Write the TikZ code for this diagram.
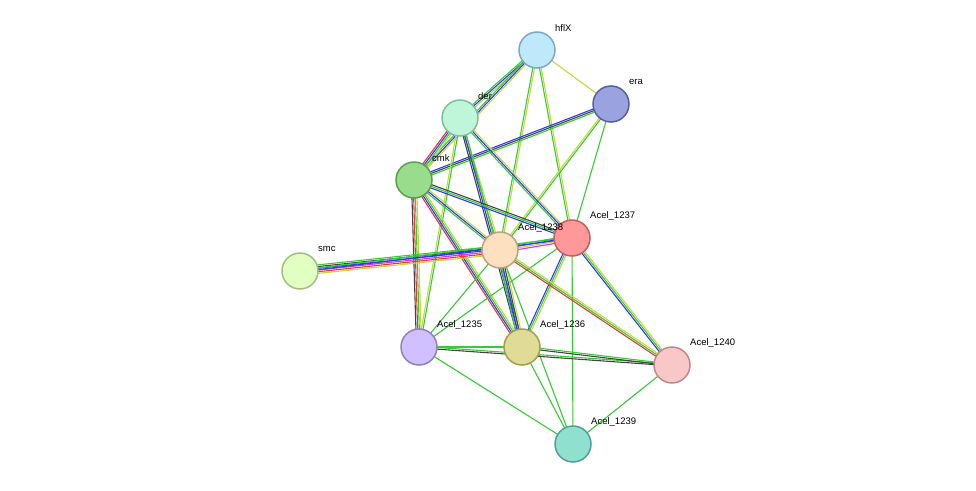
\documentclass[tikz,border=0pt]{standalone}
\usepackage{fontspec}
\setmainfont{Liberation Sans}
\usetikzlibrary{calc}
\definecolor{cg}{HTML}{33CC33}
\definecolor{cb}{HTML}{3333FF}
\definecolor{cr}{HTML}{EE3333}
\definecolor{ck}{HTML}{444444}
\definecolor{cy}{HTML}{C4D83A}
\definecolor{cmg}{HTML}{DD33DD}
\definecolor{fa}{HTML}{BFE8FB}\definecolor{ba}{HTML}{7AA8C8}
\definecolor{fb}{HTML}{9AA3E0}\definecolor{bb}{HTML}{5560A0}
\definecolor{fc}{HTML}{BFF5D8}\definecolor{bc}{HTML}{7CBF9C}
\definecolor{fd}{HTML}{99DD8C}\definecolor{bd}{HTML}{5A9E50}
\definecolor{fe}{HTML}{FF9999}\definecolor{be}{HTML}{C06060}
\definecolor{ff}{HTML}{FDE0C0}\definecolor{bf}{HTML}{C0A080}
\definecolor{fg}{HTML}{E0FFC0}\definecolor{bg}{HTML}{A0C080}
\definecolor{fh}{HTML}{D0C0FF}\definecolor{bh}{HTML}{9080C0}
\definecolor{fi}{HTML}{E0DC98}\definecolor{bi}{HTML}{A0A050}
\definecolor{fj}{HTML}{F8C8C8}\definecolor{bj}{HTML}{C08888}
\definecolor{fk}{HTML}{90E0D0}\definecolor{bk}{HTML}{50A098}
\tikzset{
 prot/.style 2 args={circle,draw=#2,fill=#1,line width=1.5pt,minimum size=36pt,inner sep=0pt},
 lab/.style={font=\fontsize{9.5pt}{10pt}\selectfont,anchor=west,inner sep=0pt},
 stripe/.style={line width=1.1pt}
}
\newcommand{\pedge}[3]{%
 \foreach \c [count=\i] in {#3} {\global\let\ncount\i}%
 \foreach \c [count=\i] in {#3} {%
  \pgfmathsetmacro{\off}{(\i-(\ncount+1)/2)*1.7}%
  \draw[stripe,draw=\c] ($(#1.center)!\off pt!90:(#2.center)$) -- ($(#2.center)!\off pt!-90:(#1.center)$);
 }}
\begin{document}
\begin{tikzpicture}[x=1pt,y=-1pt]
\useasboundingbox (0,0) rectangle (976,490);
\coordinate (hflX) at (537,50);
\coordinate (era) at (611,104);
\coordinate (der) at (460,118);
\coordinate (cmk) at (414,180);
\coordinate (a37) at (572,238);
\coordinate (a38) at (500,250);
\coordinate (smc) at (300,271);
\coordinate (a35) at (419,347);
\coordinate (a36) at (522,347);
\coordinate (a40) at (672,365);
\coordinate (a39) at (573,444);
\pedge{hflX}{der}{cg,cb,cy}
\pedge{hflX}{cmk}{cg,cb,cy}
\pedge{hflX}{era}{cy}
\pedge{hflX}{a37}{cg,cy}
\pedge{hflX}{a38}{cg,cy}
\pedge{era}{cmk}{cb,ck,cg}
\pedge{era}{a38}{cy,cg}
\pedge{era}{a37}{cg}
\pedge{der}{cmk}{cr,cb,cg,cy}
\pedge{der}{a37}{cg,cb,cy}
\pedge{der}{a38}{cg,cy}
\pedge{der}{a36}{ck,cb,cg}
\pedge{der}{a35}{cy,cg}
\pedge{cmk}{a37}{cb,cg,ck}
\pedge{cmk}{a38}{cg,cb,cy}
\pedge{cmk}{a35}{ck,cr,cg,cy}
\pedge{cmk}{a36}{cr,cb,cg,cy}
\pedge{smc}{a38}{cy,cr,cmg,cb,ck,cg}
\pedge{smc}{a37}{cb,cg}
\pedge{a37}{a38}{cg,cb,cy,cmg}
\pedge{a37}{a35}{cg}
\pedge{a37}{a36}{cb,cg,cy}
\pedge{a37}{a40}{cb,cg,cy}
\pedge{a37}{a39}{cg}
\pedge{a38}{a35}{cg}
\pedge{a38}{a36}{cg,cb,ck,cy}
\pedge{a38}{a40}{cr,cg,cy}
\pedge{a38}{a39}{cg}
\pedge{a35}{a36}{cg}
\pedge{a35}{a40}{ck,cg}
\pedge{a35}{a39}{cg}
\pedge{a36}{a40}{ck,cg}
\pedge{a36}{a39}{cg}
\pedge{a40}{a39}{cg}
\node[prot={fa}{ba}] (n1) at (hflX) {};
\node[prot={fb}{bb}] (n2) at (era) {};
\node[prot={fc}{bc}] (n3) at (der) {};
\node[prot={fd}{bd}] (n4) at (cmk) {};
\node[prot={fe}{be}] (n5) at (a37) {};
\node[prot={ff}{bf}] (n6) at (a38) {};
\node[prot={fg}{bg}] (n7) at (smc) {};
\node[prot={fh}{bh}] (n8) at (a35) {};
\node[prot={fi}{bi}] (n9) at (a36) {};
\node[prot={fj}{bj}] (n10) at (a40) {};
\node[prot={fk}{bk}] (n11) at (a39) {};
\node[lab] (l1) at ($(hflX)+(18,-22)$) {hflX};
\node[lab] (l2) at ($(era)+(18,-22)$) {era};
\node[lab] (l3) at ($(der)+(18,-22)$) {der};
\node[lab] (l4) at ($(cmk)+(18,-22)$) {cmk};
\node[lab] (l5) at ($(a37)+(18,-22)$) {Acel\_1237};
\node[lab] (l6) at ($(a38)+(18,-22)$) {Acel\_1238};
\node[lab] (l7) at ($(smc)+(18,-22)$) {smc};
\node[lab] (l8) at ($(a35)+(18,-22)$) {Acel\_1235};
\node[lab] (l9) at ($(a36)+(18,-22)$) {Acel\_1236};
\node[lab] (l10) at ($(a40)+(18,-22)$) {Acel\_1240};
\node[lab] (l11) at ($(a39)+(18,-22)$) {Acel\_1239};
\end{tikzpicture}
\end{document}
